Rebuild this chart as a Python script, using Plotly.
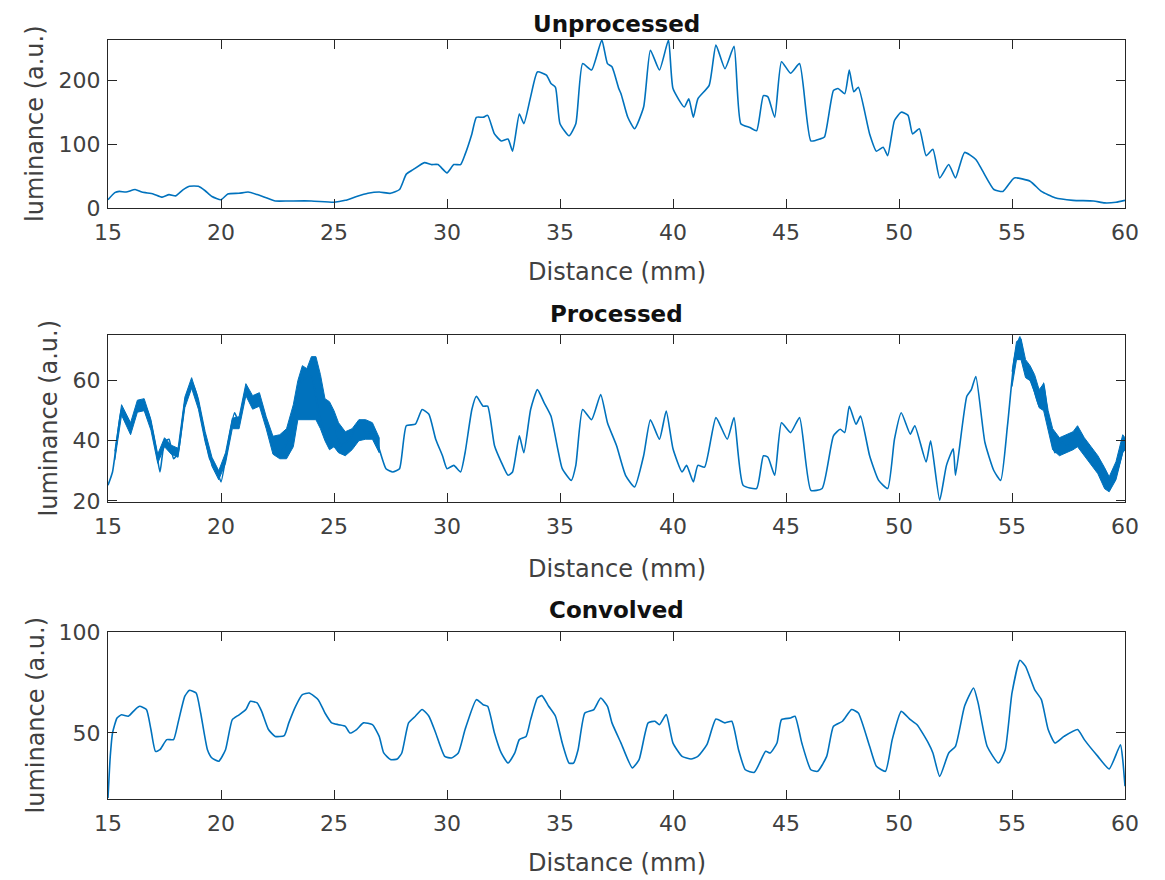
import plotly.graph_objects as go

# ---------------- data ----------------
raw_x = [15.0,15.3,15.5,15.8,16.2,16.5,17.0,17.4,17.7,18.0,18.3,18.6,19.0,19.3,19.6,20.0,20.3,20.8,21.2,21.6,
         22.0,22.4,23.0,24.0,25.0,25.5,26.0,26.5,27.0,27.5,27.9,28.2,28.5,29.0,29.3,29.6,30.0,30.3,30.6,30.8,
         31.1,31.3,31.6,31.8,32.1,32.4,32.7,32.9,33.2,33.4,33.7,34.0,34.4,34.6,34.8,35.0,35.4,35.7,36.0,36.4,
         36.85,37.1,37.3,37.6,37.7,38.0,38.3,38.7,39.0,39.4,39.8,40.0,40.5,40.7,40.9,41.1,41.6,41.9,42.3,42.7,
         43.0,43.4,43.7,44.0,44.2,44.5,44.8,45.2,45.6,46.1,46.5,46.7,47.1,47.3,47.6,47.8,48.0,48.2,48.7,49.0,
         49.3,49.5,49.8,50.1,50.4,50.6,50.9,51.2,51.5,51.8,52.2,52.5,52.9,53.4,53.7,54.2,54.6,55.1,55.8,56.3,
         56.9,57.7,58.6,59.1,59.6,60.0]
raw_y = [13,24,26,25,29,25,22,17,21,19,28,34,34,27,18,13,22,23,25,21,
         16,11,11,11,9,12,18,23,25,23,29,53,60,71,68,68,55,68,68,84,
         116,142,142,145,116,105,108,89,147,132,174,213,208,195,189,132,113,132,226,216,
         263,226,221,187,179,142,124,158,247,216,263,187,158,171,142,171,192,255,218,253,
         132,126,121,176,174,142,229,211,226,105,108,111,184,187,179,216,182,189,116,89,
         95,82,137,150,145,116,124,82,92,47,68,47,87,76,58,29,26,47,42,26,
         16,12,11,8,9,12]

proc_x = [15.0,15.2,15.4,15.6,15.8,16.0,16.3,16.6,16.8,17.1,17.3,17.5,17.7,17.9,18.1,18.4,18.7,18.9,19.2,19.5,
          19.8,20.0,20.3,20.6,20.8,21.1,21.4,21.7,22.0,22.3,22.6,23.0,23.3,23.6,24.0,24.3,24.6,25.0,25.3,25.7,
          26.0,26.4,26.8,27.0,27.3,27.6,27.9,28.2,28.6,28.9,29.2,29.5,29.8,30.0,30.3,30.6,30.8,31.1,31.3,31.6,
          31.8,32.1,32.4,32.7,32.9,33.2,33.4,33.7,34.0,34.3,34.6,34.9,35.1,35.5,35.7,36.0,36.4,36.8,37.1,37.5,
          37.9,38.3,38.7,39.0,39.4,39.7,40.0,40.4,40.6,40.9,41.1,41.4,41.9,42.4,42.7,43.1,43.7,44.0,44.2,44.5,
          44.8,45.2,45.6,46.1,46.6,47.1,47.4,47.6,47.8,48.1,48.3,48.7,49.1,49.5,49.8,50.1,50.5,50.7,51.2,51.4,
          51.8,52.1,52.4,52.5,53.0,53.2,53.4,53.8,54.2,54.5,54.8,55.1,55.35,55.6,55.8,56.2,56.4,56.6,56.9,57.2,
          57.5,57.9,58.2,58.5,58.9,59.3,59.6,60.0]
proc_y = [25.2,29.6,40.5,50.4,48,43.8,51.5,52,48.8,38.4,29.6,39.5,40.5,34,36,52.6,59.2,56,45,34,
          30.7,26.3,38.4,49.3,46,57,52.6,53.7,46,38.4,36,40.5,53.7,60.3,61.4,50.4,42.7,45,38.4,40.5,
          45,42.7,42.7,37.3,30.7,29.6,30.7,45,45.5,50.4,48.8,40.5,35,30.7,31.8,29.6,36,50.4,54.8,51.5,
          51.5,38.4,32.9,28.5,29.6,41.6,36,50.4,57,52.6,48.2,37.3,30.7,26.8,31.8,50.4,47,55.4,46,38.4,
          28.5,24.6,35,47,40.5,49.9,37.3,29.6,31.8,26.3,31.8,31.2,47.7,40.5,47.7,25.2,24.1,35,34.5,28.5,
          46,42.7,47.7,23.5,24.1,41.6,43.8,42.7,51.5,45.5,48.2,35,26.8,24.1,40.5,49.3,42.2,45,32.9,40,
          20.2,31.8,37.3,28.5,54.8,57,61.4,39.5,30,26.8,45,67,74.6,63.6,61.4,51.5,59.2,47,36,39.5,
          38.4,42.7,37.3,32.9,29.6,24.1,28.5,39.5]

# noisy (thick) parts of the processed trace: lower / upper envelope
noise1_x  = [15.3,15.6,16.0,16.3,16.6,16.9,17.2,17.5,17.8,18.1,18.4,18.7,19.0,19.3,19.6,19.9,20.2,20.5,20.8,21.1,
             21.4,21.7,22.0,22.3,22.6,22.9,23.2,23.4,23.6,23.8,24.0,24.2,24.4,24.6,24.8,25.0,25.2,25.5,25.8,26.1,
             26.4,26.7,27.0]
noise1_lo = [33.5,48.5,42,49.5,50,43.5,32.5,38,35.5,34.5,51,57.5,50.5,39.5,31.5,27,32.5,44,44,55,
             50.5,51.5,44,35.5,34,34,38,47,47,47,47,47,44,40,37,38,36,35,37,40,
             40.5,40.5,36]
noise1_hi = [36.5,52,46,53.5,54,47,35.5,41,38.5,37.5,54.5,61,54,43,34.5,30,36,47.5,48,59,
             55,56,48,41.5,42,44,52,60,65,64,68,68,62,54,53,50,46,43,44,47,
             47,46,41]
noise2_x  = [55.0,55.2,55.4,55.6,55.8,56.0,56.2,56.4,56.6,56.8,57.1,57.4,57.7,57.9,58.2,58.5,58.8,59.1,59.3,59.6,
             59.9,60.0]
noise2_lo = [58,67,67,61,60,56,51,50,44,37,35,36,37,38,35,32,29,24,23,27,36,37]
noise2_hi = [63,73,74,67,65,62,57,59,50,44,41,42,43,45,41,38,35,31,28,33,42,41]

conv_x = [15.0,15.1,15.2,15.4,15.6,15.9,16.2,16.4,16.7,16.9,17.1,17.3,17.6,17.9,18.1,18.4,18.6,18.9,19.1,19.4,
          19.6,19.9,20.2,20.5,20.8,21.1,21.3,21.6,21.8,22.1,22.4,22.8,23.0,23.3,23.6,23.9,24.3,24.6,24.9,25.2,
          25.5,25.7,26.0,26.3,26.7,27.0,27.2,27.5,27.8,28.0,28.3,28.6,28.9,29.2,29.5,29.9,30.2,30.5,30.8,31.3,
          31.6,31.8,32.1,32.4,32.7,33.0,33.2,33.5,33.7,34.0,34.2,34.5,34.8,35.1,35.4,35.6,35.8,36.1,36.5,36.8,
          37.1,37.3,37.7,38.2,38.5,38.9,39.2,39.4,39.7,40.0,40.4,40.8,41.1,41.5,41.9,42.3,42.6,42.9,43.2,43.6,
          44.1,44.3,44.6,44.8,45.2,45.4,45.7,46.1,46.4,46.8,47.1,47.5,47.9,48.2,48.7,49.0,49.4,49.7,50.1,50.5,
          50.8,51.3,51.5,51.8,52.2,52.5,52.9,53.3,53.5,53.9,54.4,54.7,55.0,55.35,55.6,56.0,56.3,56.6,56.9,57.3,
          57.9,58.2,58.8,59.3,59.8,59.9,60.0]
conv_y = [17.8,38.4,50,57.4,59,58.3,61.6,63.2,61.6,51.7,40.9,41.7,46.7,46.7,55,68.2,71.1,69.8,59.9,41.7,
          37.6,36,41.7,56.6,59,61.6,65.7,64.9,60.7,51.7,48.3,48.7,55,63.2,69,69.8,66.5,59.9,55,54.1,
          53.3,50,51.7,55,54.1,48.3,40.1,36.8,37.1,40.1,55,58.3,61.6,58.3,50,38.4,37.6,40.1,51.7,66.5,
          64,63.2,50,40.1,35.1,40.1,46.7,48.3,56.6,67.3,68.5,63.2,58.3,45,35.1,35.1,41.7,59.9,61.6,67.3,
          63.2,55,45,32.7,36.8,55,55.8,54.1,59.1,45,38.4,37.1,38.4,44.2,56.9,55,55.8,41.7,31.8,30.5,
          40.9,40.1,45,56.6,57.4,58.3,45,31.8,31,38.4,53.3,55.8,61.6,59.9,43.4,33.5,31,46.7,60.7,56.6,
          54.1,45,40.1,28.5,40.1,43.4,63.2,72.3,64.9,43.4,35.1,41.7,69.8,86,83,71.5,66.5,51.7,45,48.3,
          51.7,46.7,38.4,32.2,44.2,36.8,23.6]

titles = ["Unprocessed", "Processed", "Convolved"]
x_label = "Distance (mm)"
y_label = "luminance (a.u.)"
x_ticks = [15, 20, 25, 30, 35, 40, 45, 50, 55, 60]
y_ticks = [[0, 100, 200], [20, 40, 60], [50, 100]]
y_ranges = [[0, 263], [19.6, 75.2], [17.3, 100]]

# ---------------- figure ----------------
BLUE = "#0072BD"
FONT = "DejaVu Sans"
AX = "#262626"
TICK = "#404040"

fig = go.Figure()

line_style = dict(color=BLUE, width=1.6, shape="spline", smoothing=0.5)
fig.add_trace(go.Scatter(x=raw_x, y=raw_y, mode="lines", line=line_style,
                         xaxis="x", yaxis="y", showlegend=False))
for nx, lo, hi in [(noise1_x, noise1_lo, noise1_hi), (noise2_x, noise2_lo, noise2_hi)]:
    fig.add_trace(go.Scatter(x=nx + nx[::-1], y=hi + lo[::-1], mode="lines", fill="toself",
                             fillcolor=BLUE, line=dict(color=BLUE, width=1),
                             xaxis="x2", yaxis="y2", showlegend=False))
fig.add_trace(go.Scatter(x=proc_x, y=proc_y, mode="lines", line=line_style,
                         xaxis="x2", yaxis="y2", showlegend=False))
fig.add_trace(go.Scatter(x=conv_x, y=conv_y, mode="lines", line=line_style,
                         xaxis="x3", yaxis="y3", showlegend=False))

# the page body adds an 8px margin around the figure
OFF = 8
PL, PR, PT, PB = 108, 1125, 40, 799          # plot block in screen pixels
W, H = 1165 - OFF, 880 - OFF
L, T = PL - OFF, PT - OFF
R, B = W + OFF - PR, H + OFF - PB
panels_px = [(40, 208), (335, 502), (632, 799)]


def py2paper(py):
    return (PB - py) / (PB - PT)


def px2paper(px):
    return (px - PL) / (PR - PL)


axis_common = dict(showline=True, linecolor=AX, linewidth=1.2, mirror="ticks",
                   ticks="inside", ticklen=9, tickwidth=1.2, tickcolor=AX,
                   showgrid=False, zeroline=False,
                   tickfont=dict(family=FONT, size=22, color=TICK))

layout = dict(width=W, height=H, margin=dict(l=L, r=R, t=T, b=B),
              paper_bgcolor="white", plot_bgcolor="white", annotations=[])
for i, (top, bot) in enumerate(panels_px):
    s = "" if i == 0 else str(i + 1)
    layout["xaxis" + s] = dict(axis_common, domain=[0, 1], range=[15, 60], tickvals=x_ticks,
                               anchor="y" + s, ticklabelstandoff=4)
    layout["yaxis" + s] = dict(axis_common, domain=[py2paper(bot), py2paper(top)],
                               range=y_ranges[i], tickvals=y_ticks[i], anchor="x" + s,
                               ticklabelstandoff=2)

title_py = [8.5, 314, 610]
title_anchor = ["top", "middle", "middle"]
xlab_py = [272, 569, 863]
ylab_px = [35, 48, 35]
for i, (top, bot) in enumerate(panels_px):
    layout["annotations"].append(dict(text="<b>" + titles[i] + "</b>", xref="paper", yref="paper",
                                      x=0.5, y=py2paper(title_py[i]), showarrow=False,
                                      xanchor="center", yanchor=title_anchor[i],
                                      font=dict(family=FONT, size=23, color="#111111")))
    layout["annotations"].append(dict(text=x_label, xref="paper", yref="paper",
                                      x=0.5, y=py2paper(xlab_py[i]), showarrow=False,
                                      xanchor="center", yanchor="middle",
                                      font=dict(family=FONT, size=24, color=TICK)))
    layout["annotations"].append(dict(text=y_label, xref="paper", yref="paper",
                                      x=px2paper(ylab_px[i]), y=py2paper((top + bot) / 2),
                                      showarrow=False, textangle=-90,
                                      xanchor="center", yanchor="middle",
                                      font=dict(family=FONT, size=24, color=TICK)))

fig.update_layout(**layout)
fig.write_html("out.html")
